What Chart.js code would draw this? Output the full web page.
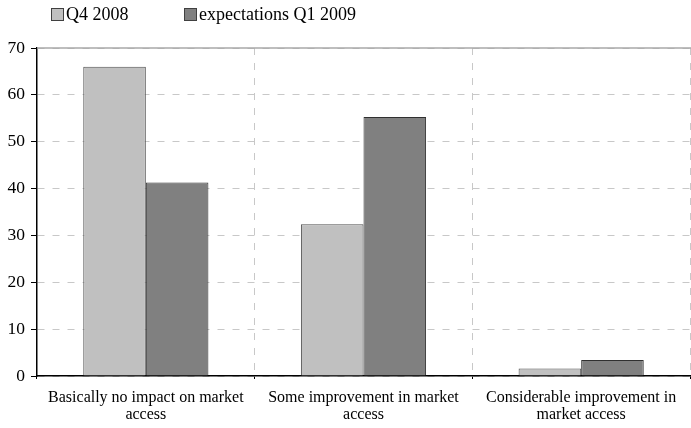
<!DOCTYPE html>
<html>
<head>
<meta charset="utf-8">
<script src="https://cdn.jsdelivr.net/npm/chart.js@4/dist/chart.umd.min.js"></script>
<style>
  html, body { margin: 0; padding: 0; background: #fff; }
  #wrap { position: relative; width: 691px; height: 428px; }
  #legend { position: absolute; top: 4px; left: 51px; font: 18px "Liberation Serif", serif; color: #000; }
  #legend span.item { position: absolute; white-space: nowrap; }
  #legend span.box { display: inline-block; width: 13px; height: 13px; border: 1px solid #404040; vertical-align: -1px; margin-right: 2px; box-sizing: border-box; }
</style>
</head>
<body>
<div id="wrap">
  <canvas id="chart" width="691" height="428"></canvas>
  <div id="legend"></div>
</div>
<script>
// categories and series
const categories = [
  ['Basically no impact on market', 'access'],
  ['Some improvement in market', 'access'],
  ['Considerable improvement in', 'market access']
];
const seriesNames = ['Q4 2008', 'expectations Q1 2009'];
const q4_2008 = [66, 32.4, 1.6];
const q1_2009 = [41.3, 55.3, 3.4];
const colors = ['#c0c0c0', '#808080'];
const yTicks = [0, 10, 20, 30, 40, 50, 60, 70];

// legend in html
const legend = document.getElementById('legend');
const legendX = [0, 133];
seriesNames.forEach((name, i) => {
  const s = document.createElement('span');
  s.className = 'item';
  s.style.left = legendX[i] + 'px';
  s.innerHTML = '<span class="box" style="background:' + colors[i] + '"></span>' + name;
  legend.appendChild(s);
});

const serif = '"Liberation Serif", "Times New Roman", serif';

// solid grey line along the top of the plot
const topLine = {
  id: 'topLine',
  afterDraw(chart) {
    const { ctx, chartArea, scales } = chart;
    const y = scales.y.getPixelForValue(70);
    ctx.save();
    ctx.strokeStyle = '#a8a8a8';
    ctx.lineWidth = 1.5;
    ctx.beginPath();
    ctx.moveTo(chartArea.left, y);
    ctx.lineTo(chartArea.right + 1, y);
    ctx.stroke();
    ctx.restore();
  }
};

new Chart(document.getElementById('chart'), {
  type: 'bar',
  data: {
    labels: categories,
    datasets: [
      { label: seriesNames[0], data: q4_2008, backgroundColor: colors[0], borderColor: '#505050', borderWidth: 1, categoryPercentage: 0.575, barPercentage: 1 },
      { label: seriesNames[1], data: q1_2009, backgroundColor: colors[1], borderColor: '#303030', borderWidth: 1, categoryPercentage: 0.575, barPercentage: 1 }
    ]
  },
  options: {
    responsive: false,
    animation: false,
    layout: { padding: { top: 48, right: 1, left: 0, bottom: 0 } },
    plugins: { legend: { display: false }, tooltip: { enabled: false } },
    scales: {
      x: {
        grid: {
          offset: true,
          color: c => (c.index === 3 ? 'rgba(0,0,0,0)' : '#c8c8c8'),
          tickColor: c => (c.index === 3 ? 'rgba(0,0,0,0)' : '#000'),
          lineWidth: 1, tickLength: 3, drawTicks: true
        },
        border: { color: '#000', width: 1.5, dash: [7, 8] },
        ticks: { color: '#000', font: { family: serif, size: 16, lineHeight: 1.08 }, padding: 10, maxRotation: 0, autoSkip: false },
        afterFit: s => { s.height = 52; }
      },
      y: {
        min: 0, max: 70,
        afterBuildTicks: s => { s.ticks = yTicks.map(v => ({ value: v })); },
        grid: { color: '#c8c8c8', tickLength: 6, tickColor: '#000', drawTicks: true },
        border: { color: '#000', width: 1.5, dash: [7, 8] },
        ticks: { color: '#000', font: { family: serif, size: 17.5 }, padding: 6 },
        afterFit: s => { s.width = 37; }
      }
    }
  },
  plugins: [topLine]
});
</script>
</body>
</html>
